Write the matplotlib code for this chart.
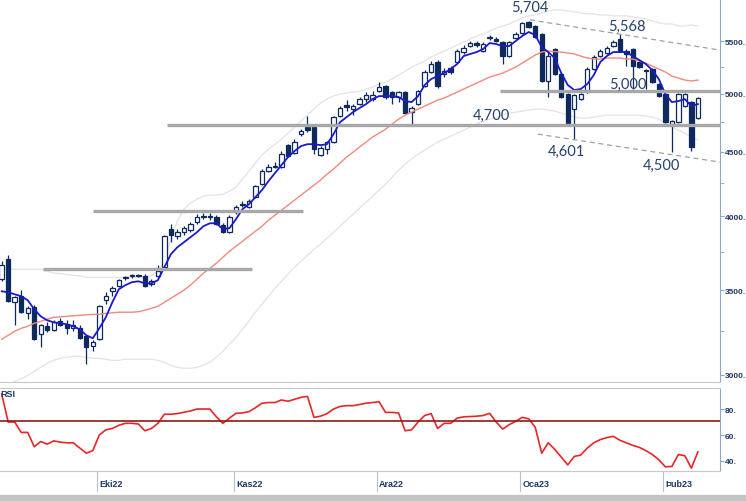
import numpy as np
import pandas as pd
import matplotlib
matplotlib.use("Agg")
import matplotlib.pyplot as plt
from matplotlib.ticker import FixedLocator, FixedFormatter, NullFormatter
from matplotlib.patches import Rectangle
import matplotlib.transforms as mtransforms

# --- data (daily candles, Sep 2022 - Feb 2023) ---
opens = [3569, 3701, 3423, 3461, 3355, 3392, 3230, 3277, 3253, 3307, 3289, 3265, 3265, 3218, 3161,
         3201, 3436, 3492, 3524, 3576, 3589, 3595, 3589, 3537, 3589, 3648, 3909, 3859, 3887, 3902,
         3958, 3994, 3994, 3994, 3937, 3887, 4031, 4083, 4068, 4143, 4242, 4343, 4375, 4375, 4553,
         4487, 4645, 4704, 4704, 4471, 4520, 4578, 4799, 4896, 4861, 4905, 4950, 4950, 5022, 5068,
         5013, 4968, 5013, 4834, 4905, 5068, 5199, 5294, 5180, 5236, 5294, 5391, 5450, 5480, 5401,
         5530, 5520, 5490, 5352, 5530, 5580, 5690, 5652, 5570, 5115, 5421, 5180, 4995, 4861, 4950,
         5013, 5227, 5352, 5382, 5450, 5520, 5401, 5421, 5294, 5217, 5227, 5087, 4995, 4730, 4747,
         4887, 4923, 4782]
highs = [3688, 3728, 3461, 3499, 3398, 3405, 3289, 3301, 3313, 3325, 3313, 3313, 3283, 3224, 3195,
         3405, 3486, 3524, 3569, 3589, 3602, 3602, 3602, 3569, 3661, 3866, 3944, 3909, 3930, 3958,
         4017, 4024, 4024, 4009, 3951, 4009, 4083, 4113, 4128, 4234, 4359, 4399, 4415, 4504, 4561,
         4603, 4687, 4799, 4712, 4545, 4586, 4799, 4887, 4941, 4905, 4968, 5013, 5022, 5105, 5078,
         5022, 5022, 5022, 4887, 5032, 5217, 5304, 5313, 5236, 5255, 5421, 5460, 5500, 5500, 5490,
         5560, 5540, 5500, 5500, 5591, 5694, 5704, 5663, 5580, 5401, 5431, 5189, 5004, 4995, 5004,
         5246, 5362, 5421, 5450, 5510, 5568, 5421, 5431, 5313, 5227, 5236, 5096, 5004, 4764, 5004,
         5004, 4932, 4968]
lows = [3556, 3423, 3283, 3355, 3319, 3195, 3155, 3242, 3248, 3277, 3230, 3248, 3201, 3059, 3132,
        3195, 3411, 3461, 3518, 3563, 3579, 3582, 3518, 3524, 3582, 3641, 3817, 3838, 3866, 3887,
        3944, 3980, 3973, 3937, 3880, 3880, 4017, 4068, 4060, 4135, 4234, 4335, 4367, 4367, 4455,
        4479, 4628, 4662, 4479, 4463, 4479, 4570, 4790, 4843, 4808, 4896, 4923, 4932, 5013, 4950,
        4905, 4923, 4817, 4713, 4896, 5059, 5189, 5050, 5152, 5180, 5284, 5372, 5440, 5440, 5391,
        5510, 5490, 5275, 5342, 5520, 5570, 5632, 5530, 5105, 4968, 5170, 4959, 4721, 4601, 4941,
        5004, 5217, 5342, 5372, 5440, 5391, 5255, 5041, 5236, 5041, 5096, 4968, 4738, 4500, 4738,
        4878, 4505, 4773]
closes = [3661, 3430, 3455, 3362, 3386, 3201, 3283, 3253, 3301, 3283, 3265, 3283, 3207, 3155, 3184,
          3398, 3461, 3511, 3563, 3582, 3595, 3589, 3524, 3556, 3622, 3859, 3866, 3887, 3916, 3944,
          3994, 4002, 3998, 3944, 3887, 3994, 4068, 4090, 4113, 4226, 4343, 4375, 4383, 4479, 4463,
          4578, 4670, 4678, 4520, 4528, 4578, 4790, 4870, 4878, 4887, 4950, 4986, 4986, 5059, 4968,
          4968, 5013, 4826, 4870, 5022, 5199, 5275, 5068, 5208, 5199, 5401, 5431, 5480, 5460, 5470,
          5545, 5500, 5352, 5490, 5570, 5684, 5642, 5540, 5115, 5352, 5180, 4968, 4730, 4986, 4995,
          5227, 5342, 5401, 5431, 5490, 5401, 5372, 5255, 5246, 5208, 5105, 4977, 4747, 4756, 4995,
          4995, 4540, 4959]
ma_fast = [3492, 3486, 3473, 3461, 3436, 3380, 3337, 3313, 3301, 3295, 3289, 3277, 3259, 3224, 3207,
           3265, 3331, 3423, 3505, 3531, 3550, 3556, 3543, 3543, 3563, 3648, 3735, 3783, 3817, 3852,
           3887, 3930, 3951, 3951, 3909, 3916, 3980, 4053, 4090, 4143, 4196, 4265, 4328, 4391, 4455,
           4504, 4545, 4561, 4561, 4553, 4561, 4645, 4747, 4790, 4834, 4870, 4905, 4950, 4977, 4977,
           4977, 4968, 4932, 4923, 4977, 5078, 5133, 5161, 5189, 5227, 5275, 5352, 5372, 5391, 5421,
           5480, 5470, 5450, 5450, 5500, 5550, 5591, 5560, 5440, 5391, 5333, 5189, 5078, 5032, 5041,
           5087, 5170, 5294, 5352, 5391, 5391, 5391, 5352, 5313, 5275, 5217, 5133, 4995, 4923, 4932,
           4950, 4887, 4905]
ma_slow = [3201, 3224, 3248, 3265, 3277, 3295, 3307, 3319, 3331, 3334, 3337, 3340, 3343, 3346, 3349,
           3349, 3355, 3358, 3362, 3362, 3362, 3365, 3374, 3386, 3398, 3423, 3448, 3473, 3499, 3531,
           3569, 3609, 3641, 3675, 3715, 3755, 3790, 3824, 3859, 3894, 3930, 3973, 4009, 4046, 4083,
           4120, 4158, 4196, 4234, 4273, 4320, 4359, 4407, 4455, 4495, 4537, 4578, 4620, 4653, 4687,
           4730, 4773, 4808, 4834, 4861, 4887, 4914, 4941, 4959, 4986, 5013, 5041, 5068, 5096, 5124,
           5152, 5170, 5189, 5217, 5246, 5284, 5323, 5362, 5391, 5401, 5396, 5391, 5382, 5372, 5352,
           5333, 5323, 5323, 5333, 5333, 5333, 5323, 5323, 5304, 5284, 5255, 5227, 5199, 5161, 5142,
           5124, 5115, 5124]
band_up = [3635, 3635, 3635, 3635, 3635, 3635, 3635, 3620, 3610, 3605, 3600, 3595, 3590, 3582, 3582,
           3582, 3582, 3582, 3582, 3582, 3582, 3582, 3582, 3595, 3622, 3688, 3838, 3966, 4053, 4098,
           4128, 4150, 4158, 4158, 4165, 4188, 4219, 4280, 4343, 4407, 4471, 4520, 4561, 4603, 4653,
           4704, 4756, 4808, 4861, 4914, 4950, 4977, 4995, 5004, 5013, 5022, 5041, 5059, 5087, 5105,
           5133, 5170, 5208, 5246, 5275, 5304, 5342, 5372, 5401, 5431, 5460, 5490, 5520, 5550, 5570,
           5601, 5632, 5652, 5673, 5704, 5736, 5757, 5767, 5788, 5809, 5819, 5819, 5809, 5798, 5788,
           5778, 5778, 5767, 5767, 5757, 5757, 5757, 5746, 5736, 5725, 5704, 5684, 5673, 5673, 5652,
           5652, 5663, 5652]
band_low = [2932, 2948, 2964, 2980, 2997, 3020, 3042, 3065, 3081, 3092, 3098, 3104, 3104, 3098, 3092,
            3092, 3087, 3081, 3081, 3087, 3087, 3087, 3087, 3087, 3081, 3070, 3053, 3042, 3037, 3037,
            3042, 3053, 3070, 3098, 3132, 3172, 3212, 3259, 3307, 3362, 3411, 3461, 3511, 3556, 3602,
            3648, 3688, 3728, 3769, 3803, 3845, 3887, 3930, 3973, 4017, 4060, 4105, 4150, 4196, 4242,
            4296, 4351, 4399, 4439, 4479, 4512, 4545, 4578, 4603, 4628, 4653, 4678, 4704, 4730, 4756,
            4773, 4790, 4808, 4826, 4834, 4843, 4852, 4861, 4861, 4852, 4843, 4826, 4808, 4790, 4782,
            4782, 4790, 4799, 4808, 4808, 4808, 4808, 4808, 4808, 4799, 4790, 4773, 4738, 4704, 4678,
            4653, 4620, 4595]
rsi = [91.5, 70, 70, 62, 62, 51, 55, 53, 55.5, 54.5, 54, 54, 50, 46, 48,
       60, 64, 65, 67.5, 69, 69, 68.5, 63.3, 65, 69, 76, 76, 76.5, 77.5, 78.5,
       80, 80, 80, 74, 69, 73, 76.7, 77, 78, 81, 84.5, 85, 85, 87, 86,
       87.5, 89, 89.7, 73.6, 74.5, 76.5, 80, 82, 82.6, 82.6, 83.5, 84.5, 85, 85.6, 77.4,
       77.4, 77, 63.3, 64, 70, 75, 76.5, 65, 69, 69, 73, 74, 74.2, 74.5, 75,
       76.7, 70, 64.6, 68, 70.5, 73.6, 72.5, 66, 46, 54, 49, 43, 37, 43.5, 44.6,
       50, 54, 56.5, 58, 59, 56, 54, 52, 50.5, 48, 45, 41, 35.5, 35.8, 45,
       44, 34.5, 47]
month_abbr = {1: "Oca", 2: "Þub", 10: "Eki", 11: "Kas", 12: "Ara"}
dates = pd.bdate_range("2022-09-12", periods=len(closes))

navy = "#0E2A5C"
label_col = "#1F3864"
axis_col = "#8EA9C8"
tick_font = "Liberation Sans"

fig = plt.figure(figsize=(7.46, 5.02), dpi=100)
ax = fig.add_axes([0, 1 - 383 / 502, 720 / 746, 383 / 502])
ax2 = fig.add_axes([0, 1 - 472 / 502, 720 / 746, 83 / 502])

x = np.arange(len(closes))
o = np.array(opens, float)
c = np.array(closes, float)
h = np.array(highs, float)
l = np.array(lows, float)

ax.set_yscale("log")
ax.set_ylim(2962, 5936)
ax.set_xlim(-0.26, 110.4)

# bands and moving averages
ax.plot(x, band_up, color="#E3E3E3", lw=0.9, zorder=1)
ax.plot(x, band_low, color="#E3E3E3", lw=0.9, zorder=1)

# candles
up = c >= o
ax.vlines(x, l, h, color=navy, lw=0.9, zorder=2)
bottom = np.minimum(o, c)
height = np.maximum(np.abs(c - o), bottom * 0.0015)
ax.bar(x[up], height[up], bottom=bottom[up], width=0.68, color="white",
       edgecolor=navy, linewidth=0.9, zorder=3)
ax.bar(x[~up], height[~up], bottom=bottom[~up], width=0.68, color=navy,
       edgecolor=navy, linewidth=0.9, zorder=3)

ax.plot(x, ma_slow, color="#F08A80", lw=1.0, zorder=4)
ax.plot(x, ma_fast, color="#1A1ACC", lw=1.3, zorder=5)

# support / resistance lines
gray = "#A8A8A8"
ax.hlines(5025, 76.6, 110.4, color=gray, lw=2.4, zorder=6)
ax.hlines(4720, 25.4, 110.4, color=gray, lw=2.4, zorder=6)
ax.hlines(4040, 14.0, 46.3, color=gray, lw=2.4, zorder=6)
ax.hlines(3635, 6.3, 38.5, color=gray, lw=2.4, zorder=6)
ax.plot([81.2, 110.4], [5716, 5410], color="#A0A0A0", lw=0.9, ls=(0, (4, 3)), zorder=6)
ax.plot([82.4, 110.4], [4645, 4415], color="#A0A0A0", lw=0.9, ls=(0, (4, 3)), zorder=6)

txt_col = "#25406A"
for tx, ty, s in [(81.2, 5850, "5,704"), (96.1, 5652, "5,568"), (96.3, 5085, "5,000"),
                  (75.2, 4808, "4,700"), (86.8, 4504, "4,601"), (101.4, 4391, "4,500")]:
    ax.text(tx, ty, s, ha="center", va="center", fontsize=10.5, color=txt_col,
            family="Lato", zorder=7)

ax.yaxis.tick_right()
ax.yaxis.set_major_locator(FixedLocator([3000, 3500, 4000, 4500, 5000, 5500]))
ax.yaxis.set_major_formatter(FixedFormatter(["3000.", "3500.", "4000.", "4500.", "5000.", "5500."]))
ax.yaxis.set_minor_locator(FixedLocator([3250, 3750, 4250, 4750, 5250]))
ax.yaxis.set_minor_formatter(NullFormatter())
ax.tick_params(axis="y", which="both", direction="out", length=3, color=axis_col,
               labelsize=6, labelcolor=label_col, pad=0.5)
ax.tick_params(axis="x", bottom=False, labelbottom=False)
for lab in ax.get_yticklabels():
    lab.set_fontweight("bold")
    lab.set_family(tick_font)
for side in ["left", "top"]:
    ax.spines[side].set_visible(False)
ax.spines["right"].set_color(axis_col)
ax.spines["bottom"].set_color("#C8C8C8")

# RSI panel
ax2.set_xlim(-0.26, 110.4)
ax2.set_ylim(32.3, 96.2)
ax2.plot(x, rsi, color="#E8262A", lw=1.2)
ax2.axhline(71, color="#8B1A1A", lw=1.2)
ax2.yaxis.tick_right()
ax2.set_yticks([40, 60, 80])
ax2.set_yticklabels(["40.", "60.", "80."])
ax2.tick_params(axis="y", direction="out", length=3, color=axis_col,
                labelsize=6, labelcolor=label_col, pad=0.5)
for lab in ax2.get_yticklabels():
    lab.set_fontweight("bold")
    lab.set_family(tick_font)
ax2.tick_params(axis="x", bottom=False, labelbottom=False)
ax2.spines["left"].set_visible(False)
ax2.spines["top"].set_color("#C8C8C8")
ax2.spines["bottom"].set_color("#C8C8C8")
ax2.spines["right"].set_color(axis_col)
ax2.text(0.0, 0.93, "RSI", transform=ax2.transAxes, fontsize=6.5, fontweight="bold",
         color=label_col, ha="left", va="center", family=tick_font)

# month labels under the RSI panel
trans = mtransforms.blended_transform_factory(ax2.transData, ax2.transAxes)
for i in range(1, len(dates)):
    if dates[i].month != dates[i - 1].month:
        ax2.plot([i - 0.3, i - 0.3], [0, -0.24], transform=trans, color="#B8C0CC",
                 lw=0.8, clip_on=False)
        ax2.text(i, -0.145, month_abbr[dates[i].month] + dates[i].strftime("%y"),
                 transform=trans, fontsize=6.5, fontweight="bold", color=label_col,
                 ha="left", va="center", family=tick_font)

fig.patches.append(Rectangle((0, 0), 1, 6 / 502, transform=fig.transFigure,
                             color="#C4C4C4", zorder=0))

fig.savefig("out.png", dpi=100)
